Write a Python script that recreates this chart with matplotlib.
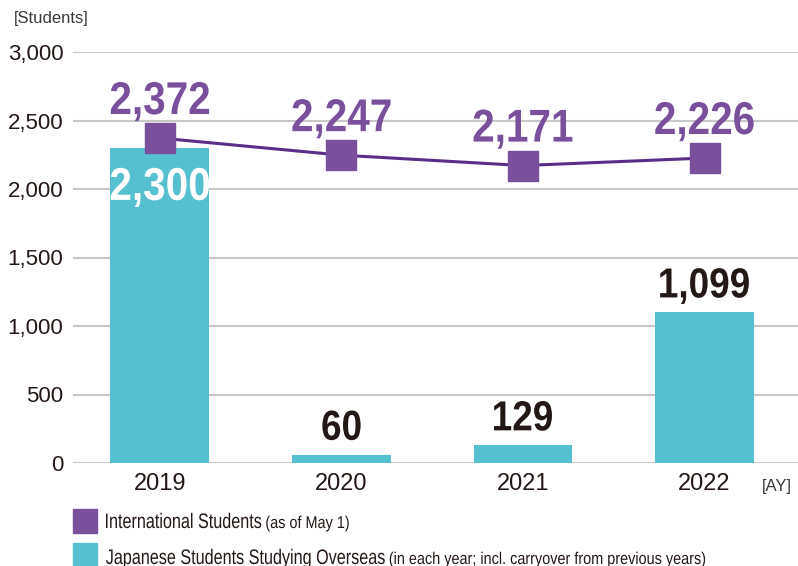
import matplotlib
matplotlib.use("Agg")
import matplotlib.pyplot as plt
from matplotlib.font_manager import FontProperties
from matplotlib.textpath import TextPath
from matplotlib.patches import PathPatch, Rectangle
from matplotlib.transforms import Affine2D, IdentityTransform

years = ["2019", "2020", "2021", "2022"]
international = [2372, 2247, 2171, 2226]
overseas = [2300, 60, 129, 1099]
y_ticks = [0, 500, 1000, 1500, 2000, 2500, 3000]

TEAL = "#55c0cf"
PURPLE = "#7a4f9c"
LINE = "#5a2d88"
DARK = "#231815"
GRID = "#c8c8c8"
W, H = 798, 566

plt.rcParams["font.family"] = ["Liberation Sans", "DejaVu Sans"]

fig = plt.figure(figsize=(W / 100, H / 100), dpi=100)
ax = fig.add_axes([73 / W, 103 / H, 1 - 73 / W, 411 / H])


def ctext(x, y, s, em, sx, color, weight="normal", ha="center"):
    # condensed text drawn as a path; x, y in pixels (y = baseline, from bottom)
    fp = FontProperties(family="Liberation Sans", weight=weight)
    tp = TextPath((0, 0), s, size=em, prop=fp)
    bb = tp.get_extents()
    if ha == "center":
        dx = -(bb.x0 + bb.width / 2) * sx
    else:
        dx = -bb.x0 * sx
    tr = Affine2D().scale(sx, 1).translate(x + dx, y)
    p = PathPatch(tr.transform_path(tp), transform=IdentityTransform(),
                  facecolor=color, edgecolor="none", zorder=10)
    fig.add_artist(p)
    return x + dx + bb.x1 * sx


x = list(range(len(years)))
ax.bar(x, overseas, width=0.545, color=TEAL, zorder=2)
ax.plot(x, international, color=LINE, lw=2.2, marker="s", ms=21,
        mfc=PURPLE, mec=PURPLE, zorder=3)

ax.set_xlim(-0.479, 3.515)
ax.set_ylim(0, 3000)
ax.set_yticks(y_ticks)
ax.set_yticklabels([f"{t:,}" for t in y_ticks])
ax.set_xticks(x)
ax.set_xticklabels(years)
ax.tick_params(axis="both", length=0, colors=DARK)
ax.tick_params(axis="y", pad=7, labelsize=16)
ax.tick_params(axis="x", pad=7, labelsize=17)
ax.grid(axis="y", color=GRID, lw=1.5, zorder=0)
ax.set_axisbelow(True)
for s in ax.spines.values():
    s.set_visible(False)

# value labels
for xi, v in zip(x, international):
    px, py = ax.transData.transform((xi, v))
    ctext(px, py + 24, f"{v:,}", 46, 0.88, PURPLE, weight="bold")

for xi, v in zip(x, overseas):
    px, py = ax.transData.transform((xi, v))
    if v > 2000:
        ctext(px, py - 52, f"{v:,}", 46, 0.88, "white", weight="bold")
    else:
        ctext(px, py + 15, f"{v:,}", 42, 0.88, DARK, weight="bold")

fig.text(14 / W, 1 - 18 / H, "[Students]", fontsize=12, color="#3a3a3a",
         va="center", ha="left")
fig.text(792 / W, 1 - 487 / H, "[AY]", fontsize=12, color="#3a3a3a",
         va="center", ha="right")

# legend
legend_items = [
    (PURPLE, "International Students", "(as of May 1)", 509, 528),
    (TEAL, "Japanese Students Studying Overseas",
     "(in each year; incl. carryover from previous years)", 543, 564),
]
for color, main, note, top, base in legend_items:
    fig.patches.append(Rectangle((73 / W, 1 - (top + 24) / H), 24 / W, 24 / H,
                                 transform=fig.transFigure, color=color))
    end = ctext(106, H - base, main, 21, 0.77, DARK, ha="left")
    ctext(end + 5, H - base, note, 17, 0.85, DARK, ha="left")

fig.savefig("out.png", dpi=100)
